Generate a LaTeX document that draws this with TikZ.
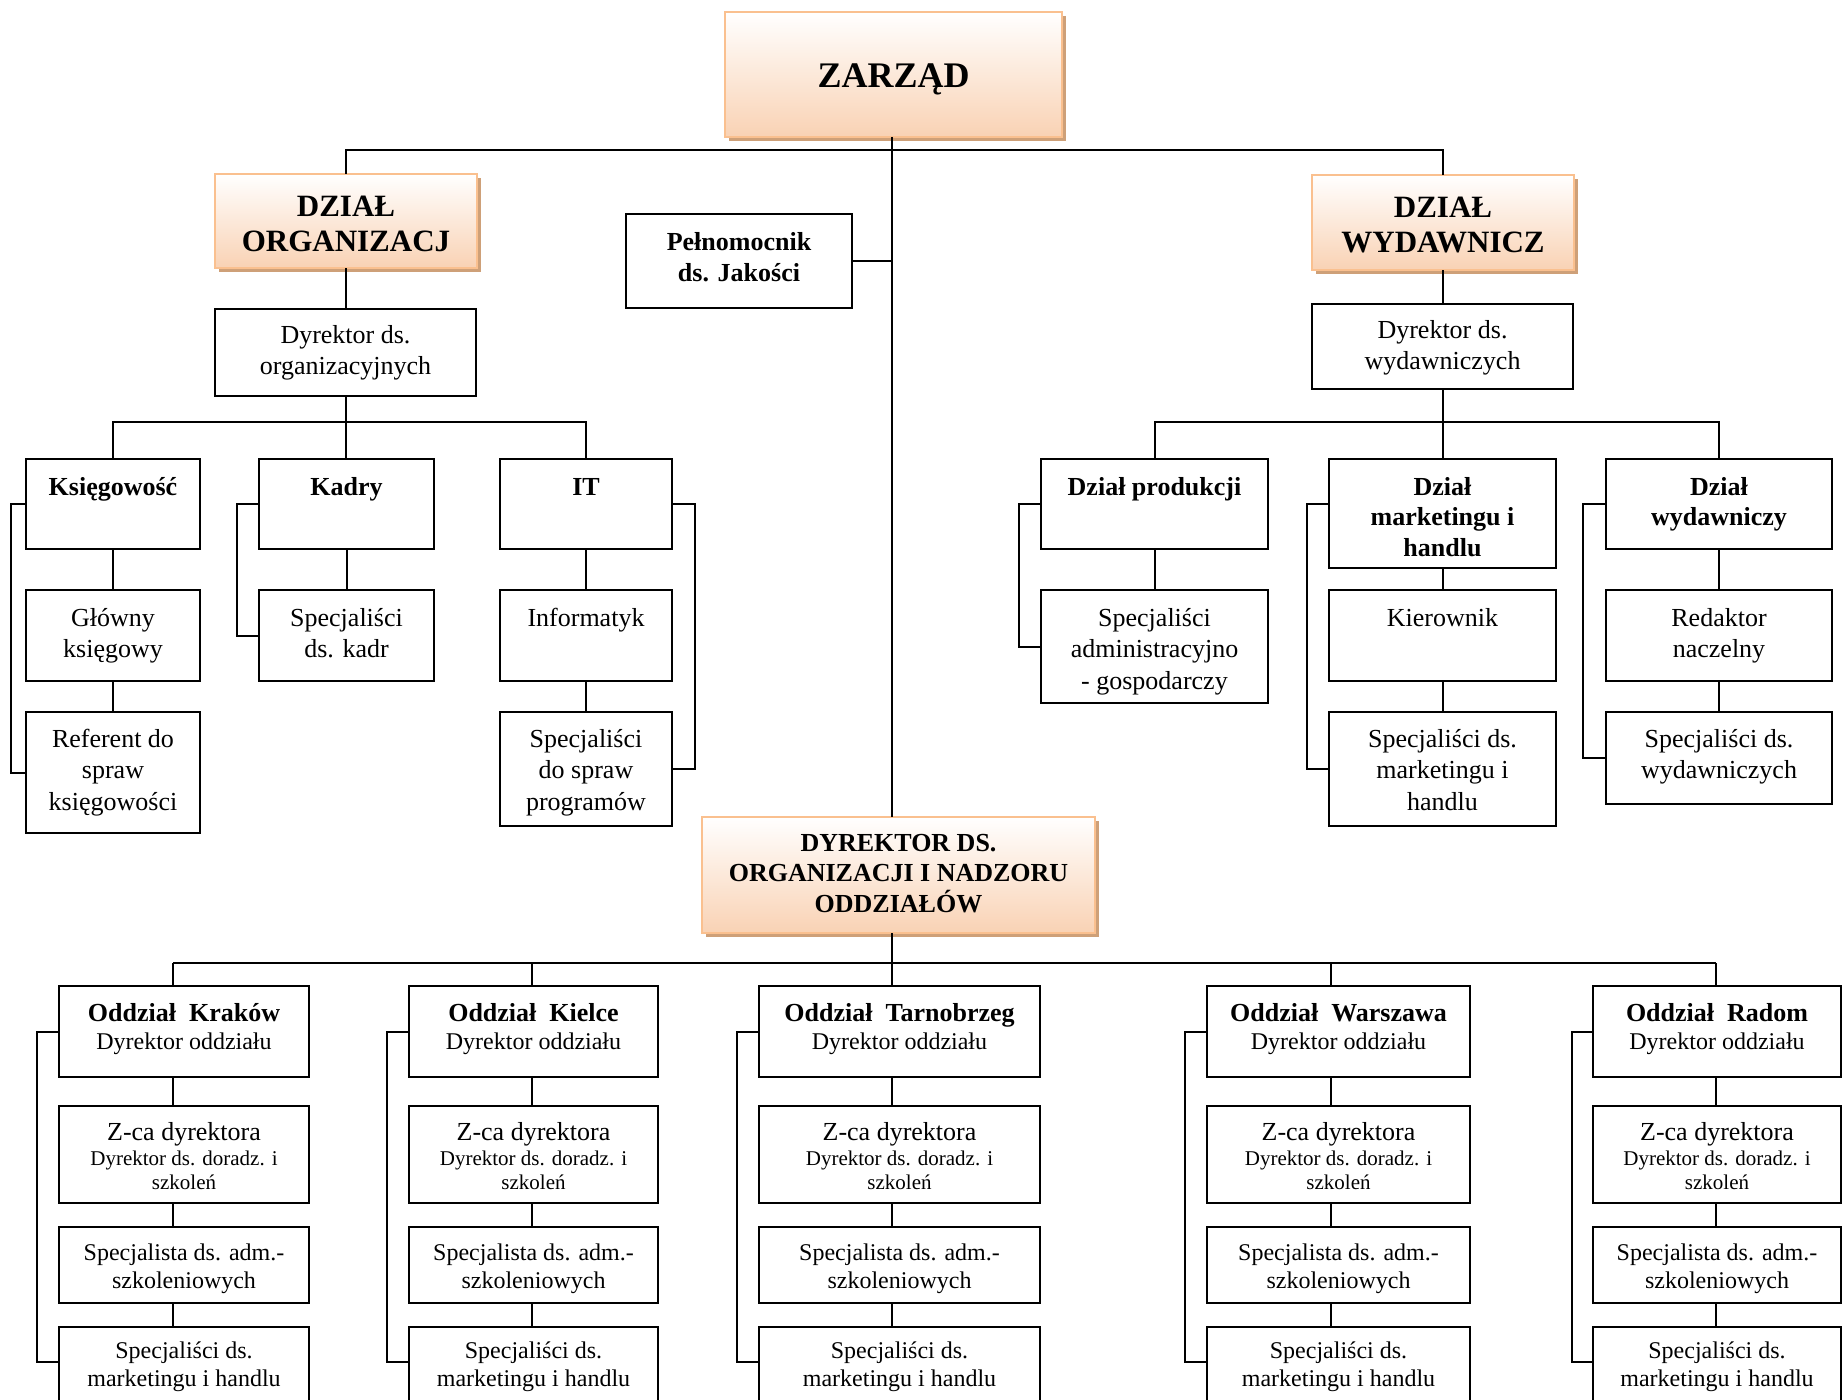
\documentclass[tikz,border=0pt]{standalone}
\usepackage{fontspec}
\setmainfont{Liberation Serif}
\definecolor{peachbot}{RGB}{249,210,180}
\definecolor{peachmid}{RGB}{252,229,212}
\definecolor{peachline}{RGB}{250,192,143}
\definecolor{shadowbrown}{RGB}{206,160,120}
\tikzset{
  box/.style={draw=black, line width=2pt, fill=white, inner sep=0pt, outer sep=0pt, anchor=north west},
  conn/.style={draw=black, line width=2pt},
  txt/.style={anchor=base, align=center, inner sep=0pt},
  r26/.style={txt, font=\fontsize{26}{31.5}\selectfont},
  b26/.style={txt, font=\bfseries\fontsize{26}{30.5}\selectfont},
  r24/.style={txt, font=\fontsize{24}{28.5}\selectfont},
  r21/.style={txt, font=\fontsize{21}{24.5}\selectfont},
  b31/.style={txt, font=\bfseries\fontsize{31}{35}\selectfont},
  b36/.style={txt, font=\bfseries\fontsize{36}{40}\selectfont},
}
\newcommand\myplbox[5]{\node[box, minimum width={#4-#2}, minimum height={#5-#3}] (#1) at (#2,#3) {};}
\newcommand\myshbox[5]{%
  \fill[shadowbrown] (#2+4,#3+4) rectangle (#4+4,#5+4);
  \shade[top color=white, middle color=peachmid, bottom color=peachbot] (#2,#3) rectangle (#4,#5);
  \node[draw=peachline, line width=2.5pt, inner sep=0pt, outer sep=0pt, anchor=north west, minimum width={#4-#2}, minimum height={#5-#3}] (#1) at (#2,#3) {};}
\begin{document}
\begin{tikzpicture}[x=1pt,y=-1pt]
\useasboundingbox (0,0) rectangle (1843,1399);
\clip (0,0) rectangle (1843,1399);
\fill[white] (0,0) rectangle (1843,1399);

% ---------- shaded boxes ----------
\myshbox{zarzad}{725}{12}{1062}{137}
\myshbox{dzorg}{215}{174}{477}{268}
\myshbox{dzwyd}{1312}{175}{1574}{270}
\myshbox{dyr}{702}{817}{1095}{933}

% ---------- plain boxes ----------
\myplbox{peln}{626}{214}{852}{308}
\myplbox{dyrorg}{215}{309}{476}{396}
\myplbox{dyrwyd}{1312}{304}{1573}{389}
\myplbox{ksieg}{26}{459}{200}{549}
\myplbox{kadry}{259}{459}{434}{549}
\myplbox{it}{500}{459}{672}{549}
\myplbox{glowny}{26}{590}{200}{681}
\myplbox{speckadr}{259}{590}{434}{681}
\myplbox{inform}{500}{590}{672}{681}
\myplbox{referent}{26}{712}{200}{833}
\myplbox{specprog}{500}{712}{672}{826}
\myplbox{prod}{1041}{459}{1268}{549}
\myplbox{mark}{1329}{459}{1556}{568}
\myplbox{wydz}{1606}{459}{1832}{549}
\myplbox{specadm}{1041}{590}{1268}{703}
\myplbox{kier}{1329}{590}{1556}{681}
\myplbox{redak}{1606}{590}{1832}{681}
\myplbox{specmark}{1329}{712}{1556}{826}
\myplbox{specwyd}{1606}{712}{1832}{804}

% ---------- reference coordinates ----------
\coordinate (cx) at (892,0);
\coordinate (topbar) at (0,150);
\coordinate (lbar) at (0,422);
\coordinate (rbar) at (0,422);
\coordinate (botbar) at (0,963);

% ---------- top connectors ----------
\draw[conn] (cx |- zarzad.south) -- (cx |- dyr.north);
\draw[conn] (dzorg.north) -- (dzorg.north |- topbar) -- (dzwyd.north |- topbar) -- (dzwyd.north);
\draw[conn] (peln.east) -- (cx |- peln.east);

% left branch
\draw[conn] (dzorg.south) -- (dzorg.south |- dyrorg.north);
\draw[conn] (dyrorg.south) -- (dyrorg.south |- kadry.north);
\draw[conn] (ksieg.north) -- (ksieg.north |- lbar) -- (it.north |- lbar) -- (it.north);
\draw[conn] (ksieg.south) -- (glowny.north);
\draw[conn] (glowny.south) -- (referent.north);
\draw[conn] (kadry.south) -- (speckadr.north);
\draw[conn] (it.south) -- (inform.north);
\draw[conn] (inform.south) -- (specprog.north);
\draw[conn] (ksieg.west) -- (ksieg.west -| 11,0) |- (referent.west);
\draw[conn] (kadry.west) -- (kadry.west -| 237,0) |- (speckadr.west);
\draw[conn] (it.east) -- (it.east -| 695,0) |- (specprog.east);

% right branch
\draw[conn] (dzwyd.south) -- (dzwyd.south |- dyrwyd.north);
\draw[conn] (dyrwyd.south) -- (dyrwyd.south |- mark.north);
\draw[conn] (prod.north) -- (prod.north |- rbar) -- (wydz.north |- rbar) -- (wydz.north);
\draw[conn] (prod.south) -- (prod.south |- specadm.north);
\draw[conn] (mark.south) -- (kier.north);
\draw[conn] (kier.south) -- (specmark.north);
\draw[conn] (wydz.south) -- (redak.north);
\draw[conn] (redak.south) -- (specwyd.north);
\draw[conn] (prod.west) -- (prod.west -| 1019,0) |- (specadm.west);
\draw[conn] ([yshift=-45pt]mark.north west) -- ++(-22,0) |- (specmark.west);
\draw[conn] (wydz.west) -- (wydz.west -| 1583,0) |- (specwyd.west);

% bottom
\coordinate (colk) at (173,963);
\coordinate (colr) at (1716,963);
\draw[conn] (cx |- dyr.south) -- (cx |- botbar);
\draw[conn] (colk) -- (colr);

\foreach \n/\xa/\xb/\lx/\bx/\city in {k/59/309/173/37/Kraków, ki/409/658/532/387/Kielce, t/759/1040/892/737/Tarnobrzeg, w/1207/1470/1331/1185/Warszawa, r/1593/1841/1716/1572/Radom}{
  \myplbox{o\n}{\xa}{986}{\xb}{1077}
  \myplbox{z\n}{\xa}{1106}{\xb}{1203}
  \myplbox{s\n}{\xa}{1227}{\xb}{1303}
  \myplbox{m\n}{\xa}{1327}{\xb}{1430}
  \coordinate (col\n) at (\lx,963);
  \draw[conn] (col\n) -- (col\n |- o\n.north);
  \draw[conn] (col\n |- o\n.south) -- (col\n |- z\n.north);
  \draw[conn] (col\n |- z\n.south) -- (col\n |- s\n.north);
  \draw[conn] (col\n |- s\n.south) -- (col\n |- m\n.north);
  \draw[conn] (o\n.west) -- (o\n.west -| \bx,0) |- ([yshift=-35pt]m\n.north west);
  \pgfmathsetmacro\cxx{(\xa+\xb)/2}
  \node[b26] (ot\n) at (\cxx,1021) {Oddział~ \city};
  \node[r24] (od\n) at (\cxx,1049) {Dyrektor oddziału};
  \node[r26] (zt\n) at (\cxx,1140) {Z-ca dyrektora};
  \node[r21] (zd\n) at (\cxx,1189.5) {Dyrektor ds. doradz. i\\szkoleń};
  \node[r24] (st\n) at (\cxx,1288.5) {Specjalista ds. adm.-\\szkoleniowych};
  \node[r24] (mt\n) at (\cxx,1386.5) {Specjaliści ds.\\marketingu i handlu};
}

% ---------- texts (anchor = baseline of last line) ----------
\node[b36] (tzarzad) at (893.5,88) {ZARZĄD};
\node[b31] (tdzorg) at (346,251) {DZIAŁ\\ORGANIZACJ};
\node[b31] (tdzwyd) at (1443,252) {DZIAŁ\\WYDAWNICZ};
\node[b26] (tpeln) at (739,281) {Pełnomocnik\\ds. Jakości};
\node[r26] (tdyrorg) at (345.5,374.5) {Dyrektor ds.\\organizacyjnych};
\node[r26] (tdyrwyd) at (1442.5,369.5) {Dyrektor ds.\\wydawniczych};
\node[b26] (tksieg) at (113,495) {Księgowość};
\node[b26] (tkadry) at (346.5,495) {Kadry};
\node[b26] (tit) at (586,495) {IT};
\node[r26] (tglowny) at (113,657.5) {Główny\\księgowy};
\node[r26] (tspeckadr) at (346.5,657.5) {Specjaliści\\ds. kadr};
\node[r26] (tinform) at (586,626) {Informatyk};
\node[r26] (treferent) at (113,810) {Referent do\\spraw\\księgowości};
\node[r26] (tspecprog) at (586,810) {Specjaliści\\do spraw\\programów};
\node[b26] (tprod) at (1154.5,495) {Dział produkcji};
\node[b26] (tmark) at (1442.5,556) {Dział\\marketingu i\\handlu};
\node[b26] (twydz) at (1719,525.5) {Dział\\wydawniczy};
\node[r26] (tspecadm) at (1154.5,689) {Specjaliści\\administracyjno\\- gospodarczy};
\node[r26] (tkier) at (1442.5,626) {Kierownik};
\node[r26] (tredak) at (1719,657.5) {Redaktor\\naczelny};
\node[r26] (tspecmark) at (1442.5,810) {Specjaliści ds.\\marketingu i\\handlu};
\node[r26] (tspecwyd) at (1719,778.5) {Specjaliści ds.\\wydawniczych};
\node[b26] (tdyr) at (898.5,912) {DYREKTOR DS.\\ORGANIZACJI I NADZORU\\ODDZIAŁÓW};
\end{tikzpicture}
\end{document}
